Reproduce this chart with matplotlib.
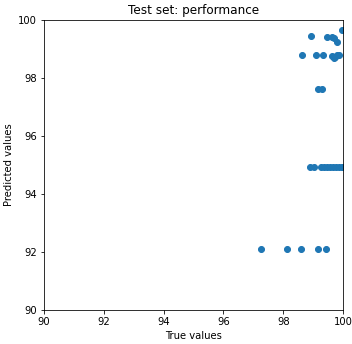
import matplotlib
matplotlib.use("Agg")
import matplotlib.pyplot as plt

# true vs predicted values
true_vals = [
    98.93, 99.46, 99.63, 99.70, 99.80, 99.97,
    98.63, 99.10, 99.33, 99.63, 99.73, 99.80, 99.70, 99.87,
    99.16, 99.30,
    98.90, 99.03, 99.25, 99.35, 99.45, 99.55, 99.65, 99.75, 99.85, 99.95, 100.0,
    97.26, 98.13, 98.60, 99.16, 99.43,
]
pred_vals = [
    99.45, 99.41, 99.41, 99.38, 99.24, 99.66,
    98.79, 98.79, 98.79, 98.76, 98.72, 98.79, 98.69, 98.79,
    97.62, 97.62,
    94.93, 94.93, 94.93, 94.93, 94.93, 94.93, 94.93, 94.93, 94.93, 94.93, 94.93,
    92.10, 92.10, 92.10, 92.10, 92.10,
]

fig = plt.figure(figsize=(352 / 72, 344 / 72), dpi=72)
ax = fig.add_axes([44 / 352, 34 / 344, 299 / 352, 290 / 344])
ax.scatter(true_vals, pred_vals)
ax.set_xlim(90, 100)
ax.set_ylim(90, 100)
ax.set_title("Test set: performance")
ax.set_xlabel("True values")
ax.set_ylabel("Predicted values")
fig.savefig("out.png", dpi=72)
